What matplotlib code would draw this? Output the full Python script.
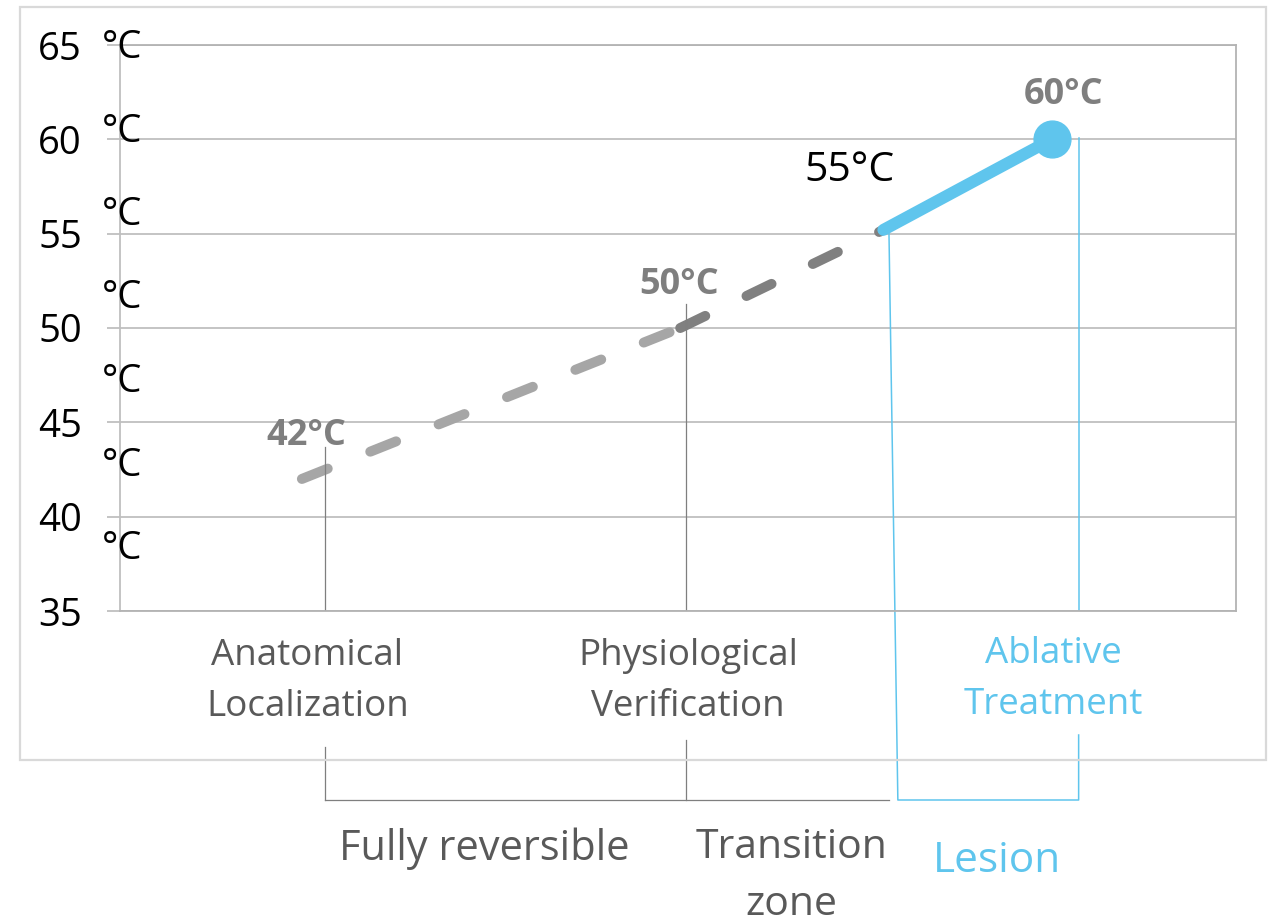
import matplotlib.pyplot as plt
from matplotlib.patches import Rectangle

plt.rcParams['font.family'] = ['Open Sans', 'DejaVu Sans']
plt.rcParams['lines.scale_dashes'] = False

# temperature path (x is a unitless position along the procedure)
path_x = [1.63, 5.02, 6.84, 8.35]
path_t = [42, 50, 55.2, 60]
point_labels = ['42°C', '50°C', '55°C', '60°C']

stage_names = ['Anatomical\nLocalization', 'Physiological\nVerification', 'Ablative\nTreatment']
stage_x = [1.68, 5.09, 8.36]
guide_x = [1.84, 5.07, 6.89, 8.59]

zone_names = ['Fully reversible', 'Transition\nzone', 'Lesion']
zone_x = [3.26, 6.02, 7.86]

yticks = [35, 40, 45, 50, 55, 60, 65]

GRAY = '#595959'
LGRAY = '#7f7f7f'
BLUE = '#5fc5ed'
GRID = '#bfbfbf'

fig = plt.figure(figsize=(12.75, 9.18), dpi=100)
W, H = 1275, 918
ax = fig.add_axes([120 / W, 1 - 611 / H, (1236 - 120) / W, 566 / H])

# outer frame
fig.patches.append(Rectangle((20 / W, 1 - 760 / H), (1266 - 20) / W, (760 - 7) / H,
                             transform=fig.transFigure, fill=False, ec='#d9d9d9', lw=1.6))

ax.set_xlim(0, 10)
ax.set_ylim(35, 65)
ax.set_yticks(yticks)
ax.set_xticks([])
ax.grid(axis='y', color=GRID, lw=1.3)
ax.set_axisbelow(True)
for s in ax.spines.values():
    s.set_color('#b3b3b3')
    s.set_linewidth(1.3)
ax.spines['left'].set_color(GRID)
ax.tick_params(axis='y', length=9.4, width=1.3, color=GRID, pad=18, labelsize=27.5, labelcolor='black')

# degree units beside the tick numbers
for i in range(len(yticks)):
    fig.text(102 / W, 1 - (48 + i * 83.5) / H, '°C', fontsize=27.5, ha='left', va='center')

# dashed gray path 42 -> 50 -> 55, solid blue 55 -> 60
ax.plot(path_x[:2], path_t[:2], color='#a6a6a6', lw=7.2, dashes=(20, 33), dash_capstyle='round')
ax.plot(path_x[1:3], path_t[1:3], color='#808080', lw=7.2, dashes=(20, 33), dash_capstyle='round')
ax.plot(path_x[2:], path_t[2:], color=BLUE, lw=8.6, solid_capstyle='round')
ax.plot(path_x[3], path_t[3], 'o', color=BLUE, ms=26.5)

offsets = [(4, 43), (-1, 43), (-34, 59), (12, 44)]
for i in range(len(point_labels)):
    if i == 2:
        kw = dict(fontsize=29.5, color='black')
    else:
        kw = dict(fontsize=26, color=LGRAY, fontweight='bold')
    ax.annotate(point_labels[i], (path_x[i], path_t[i]), xytext=offsets[i],
                textcoords='offset pixels', ha='center', va='center', **kw)

# guide lines
tr = ax.get_xaxis_transform()
def fy(py):
    return (611 - py) / 566

ax.plot([guide_x[0]] * 2, [fy(447), 0], color=LGRAY, lw=0.9, transform=tr)
ax.plot([guide_x[1]] * 2, [fy(304), 0], color=LGRAY, lw=0.9, transform=tr)
ax.plot([guide_x[0]] * 2, [fy(747), fy(800)], color=LGRAY, lw=0.9, transform=tr, clip_on=False)
ax.plot([guide_x[1]] * 2, [fy(740), fy(800)], color=LGRAY, lw=0.9, transform=tr, clip_on=False)
ax.plot([guide_x[0], guide_x[2]], [fy(800)] * 2, color=LGRAY, lw=0.9, transform=tr, clip_on=False)

ax.plot([guide_x[2], guide_x[2] + 0.08, guide_x[3], guide_x[3]],
        [fy(230), fy(800), fy(800), fy(735)], color=BLUE, lw=1.1, transform=tr, clip_on=False)
ax.plot([guide_x[3]] * 2, [fy(138), 0], color=BLUE, lw=1.1, transform=tr)

# stage labels
for i in range(len(stage_names)):
    c = BLUE if i == 2 else GRAY
    ax.text(stage_x[i], fy(636 if i == 2 else 638), stage_names[i], transform=tr, ha='center', va='top',
            fontsize=26.5, color=c, linespacing=1.55)

# zone labels
for i in range(len(zone_names)):
    c = BLUE if i == 2 else GRAY
    if i == 1:
        ax.text(zone_x[i], fy(827), zone_names[i], transform=tr, ha='center', va='top',
                fontsize=29.5, color=c, linespacing=1.55)
    else:
        ax.text(zone_x[i], fy(849 if i == 0 else 861), zone_names[i], transform=tr,
                ha='center', va='center', fontsize=30 if i == 0 else 30.5, color=c)

fig.savefig('out.png', dpi=100)
